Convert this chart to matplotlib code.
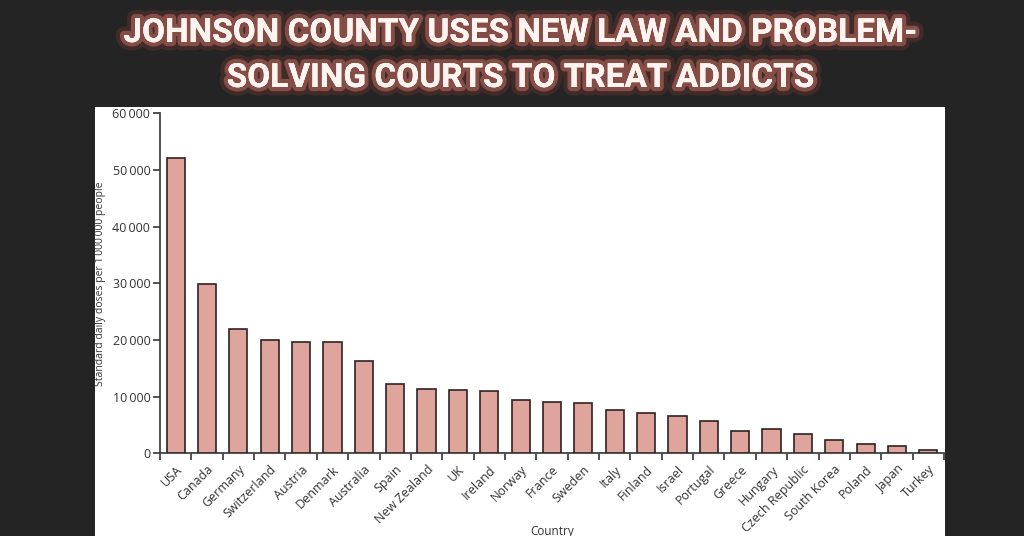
import matplotlib
matplotlib.use("Agg")

import matplotlib.pyplot as plt
import matplotlib.patheffects as pe
import numpy as np

# Data
countries = ["USA", "Canada", "Germany", "Switzerland", "Austria", "Denmark",
             "Australia", "Spain", "New Zealand", "UK", "Ireland", "Norway",
             "France", "Sweden", "Italy", "Finland", "Israel", "Portugal",
             "Greece", "Hungary", "Czech Republic", "South Korea", "Poland",
             "Japan", "Turkey"]
doses = [52050, 29900, 21980, 19930, 19640, 19640, 16290, 12230, 11400,
         11170, 10940, 9350, 9110, 8880, 7590, 7110, 6580, 5750, 3940,
         4240, 3400, 2400, 1590, 1290, 580]
yticks = [0, 10000, 20000, 30000, 40000, 50000, 60000]

title_lines = ["JOHNSON COUNTY USES NEW LAW AND PROBLEM-",
               "SOLVING COURTS TO TREAT ADDICTS"]

fig = plt.figure(figsize=(10.24, 5.36), dpi=100)
fig.patch.set_facecolor("#242424")

# white panel behind the chart
panel = plt.Rectangle((95 / 1024, 0), 850 / 1024, 1 - 107 / 536,
                      transform=fig.transFigure, facecolor="white",
                      edgecolor="none", zorder=-5)
fig.patches.append(panel)

# title with a reddish glow
glow = [pe.withStroke(linewidth=12, foreground="#a8443c", alpha=0.22),
        pe.withStroke(linewidth=6, foreground="#d9796d", alpha=0.45),
        pe.Normal()]
for i, line in enumerate(title_lines):
    fig.text(0.508, 1 - (33 + 45 * i) / 536, line, ha="center", va="center",
             fontsize=24, fontweight="bold", color="#fff4ef",
             family=["Roboto", "DejaVu Sans"],
             path_effects=glow)

ax = fig.add_axes([160 / 1024, 82.7 / 536, 784 / 1024, 340 / 536])
ax.set_zorder(2)
ax.set_facecolor("white")

x = np.arange(len(countries))
ax.bar(x, doses, width=0.58, color="#dfa59c", edgecolor="#2e2222",
       linewidth=1.2, zorder=3)

font = ["Open Sans", "DejaVu Sans"]
ax.set_xlim(-0.5, len(countries) - 0.5)
ax.set_ylim(0, 60000)
ax.set_yticks(yticks)
ax.set_yticklabels([f"{v:,}".replace(",", "\u2009") for v in yticks],
                   fontsize=9, color="#333333", family=font)

ax.set_xticks(x)
ax.set_xticklabels(countries, rotation=45, ha="right",
                   rotation_mode="anchor", fontsize=9, color="#333333",
                   family=font)
ax.tick_params(axis="x", which="major", length=0, pad=7)
ax.set_xticks(np.arange(-0.5, len(countries)), minor=True)
ax.tick_params(axis="x", which="minor", length=5, width=1.3, color="#444444")
ax.tick_params(axis="y", length=5, width=1.3, color="#444444", pad=2)

for side in ["top", "right"]:
    ax.spines[side].set_visible(False)
for side in ["left", "bottom"]:
    ax.spines[side].set_color("#444444")
    ax.spines[side].set_linewidth(1.3)

ax.set_ylabel("Standard daily doses per 1\u2009000\u2009000 people",
              fontsize=7.5, color="#333333", family=font)
ax.yaxis.set_label_coords(-0.069, 0.5)
ax.set_xlabel("Country", fontsize=8.5, color="#333333", family=font)
ax.xaxis.set_label_coords(0.5, -0.21)

plt.savefig("out.png", dpi=100, facecolor=fig.get_facecolor())
